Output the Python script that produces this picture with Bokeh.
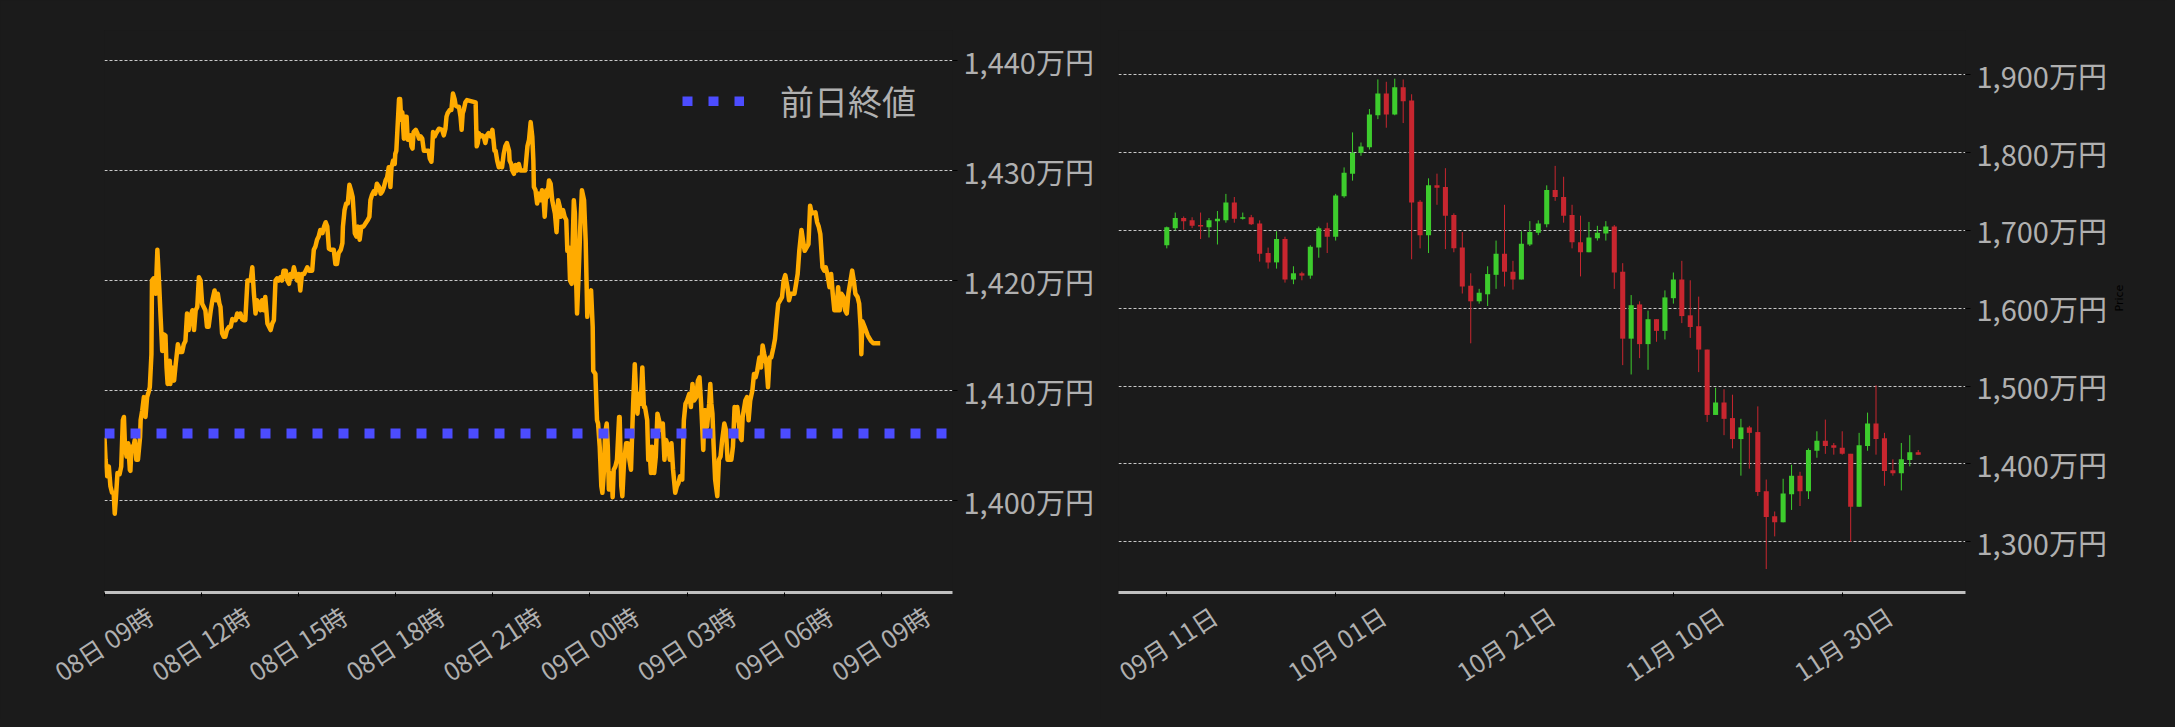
import math
from bokeh.plotting import figure
from bokeh.models import (Range1d, FixedTicker, ColumnDataSource, Legend, LegendItem, LinearAxis)
from bokeh.layouts import row
from bokeh.embed import file_html
from bokeh.resources import INLINE

# ---------------- data ----------------
# Intraday (minutes after 08日 09:00) and price (万円)
intraday = [(0,1405.7),(2,1403.7),(5,1402.2),(8,1403.1),(11,1401.3),(14,1400.7),(17,1400.7),(19,1398.8),(21,1400.1),(24,1402.5),(28,1402.4),(31,1403.1),(34,1407.3),(36,1407.6),(38,1404.9),(41,1404.0),(44,1405.2),(47,1402.8),(48,1402.7),(50,1404.9),(53,1404.6),(56,1405.5),(59,1403.7),(62,1403.7),(66,1405.8),(67,1407.3),(70,1408.2),(73,1409.4),(76,1407.6),(79,1409.4),(82,1409.9),(84,1410.3),(87,1413.3),(88,1420.0),(91,1420.2),(95,1418.8),(98,1422.8),(101,1420.0),(104,1416.7),(107,1413.6),(110,1415.1),(113,1415.0),(115,1412.1),(117,1410.6),(121,1412.7),(122,1410.6),(125,1412.1),(129,1410.9),(132,1412.4),(134,1413.3),(136,1414.2),(140,1413.5),(144,1413.5),(147,1414.2),(150,1414.5),(153,1417.0),(156,1415.5),(159,1416.7),(163,1417.3),(166,1415.5),(169,1417.3),(172,1417.6),(175,1420.3),(178,1420.0),(181,1417.9),(184,1417.6),(187,1417.3),(190,1415.8),(193,1415.8),(197,1417.3),(200,1418.2),(204,1419.1),(207,1418.2),(210,1418.8),(213,1417.9),(215,1417.6),(218,1415.2),(221,1414.9),(224,1414.9),(227,1415.5),(231,1415.8),(234,1415.8),(237,1416.5),(240,1416.4),(243,1416.4),(246,1417.0),(249,1416.7),(252,1417.0),(255,1416.5),(258,1416.4),(261,1416.4),(265,1420.0),(268,1420.0),(271,1420.0),(274,1421.2),(277,1418.8),(280,1417.0),(283,1418.2),(286,1417.9),(289,1417.3),(292,1418.2),(295,1417.3),(298,1418.5),(302,1416.1),(305,1415.8),(308,1415.5),(311,1416.1),(314,1416.4),(317,1420.0),(320,1420.2),(323,1420.0),(326,1420.3),(329,1420.0),(332,1420.9),(336,1420.9),(339,1420.0),(342,1419.7),(345,1420.6),(348,1420.3),(351,1421.2),(354,1420.6),(357,1420.0),(360,1420.6),(363,1419.1),(366,1420.6),(370,1420.6),(373,1420.9),(376,1421.2),(379,1420.9),(385,1420.9),(388,1422.8),(391,1423.1),(394,1423.7),(397,1424.0),(400,1424.6),(404,1424.3),(407,1424.9),(410,1425.3),(413,1424.9),(416,1422.9),(419,1422.8),(425,1422.8),(428,1421.5),(431,1421.5),(434,1422.5),(438,1422.8),(441,1423.4),(442,1424.9),(445,1426.4),(448,1427.0),(451,1427.0),(454,1428.7),(457,1428.2),(460,1427.6),(462,1426.1),(464,1424.3),(467,1424.0),(470,1424.9),(473,1423.7),(476,1424.9),(480,1424.9),(484,1425.2),(488,1425.5),(491,1425.8),(493,1427.3),(496,1427.8),(499,1428.1),(502,1427.9),(505,1428.8),(509,1428.5),(512,1427.9),(515,1428.1),(518,1428.5),(521,1429.1),(524,1429.4),(527,1430.3),(530,1428.5),(532,1430.3),(535,1430.9),(538,1430.6),(539,1431.5),(541,1431.8),(543,1433.7),(546,1436.5),(548,1436.5),(550,1434.6),(552,1435.3),(555,1432.9),(557,1434.9),(560,1434.9),(562,1432.8),(564,1433.1),(567,1433.2),(569,1432.2),(571,1432.0),(573,1433.5),(577,1433.7),(580,1433.4),(583,1432.9),(586,1433.1),(589,1432.9),(592,1431.8),(601,1431.8),(603,1431.1),(606,1430.8),(607,1431.5),(609,1433.5),(612,1433.1),(615,1433.4),(620,1433.8),(626,1433.7),(629,1433.2),(632,1433.8),(634,1434.9),(636,1435.2),(640,1435.5),(643,1435.5),(646,1437.0),(649,1436.5),(651,1435.9),(654,1435.8),(657,1435.8),(660,1434.9),(662,1433.7),(664,1435.2),(666,1435.5),(669,1436.2),(672,1436.4),(688,1436.2),(690,1432.2),(692,1432.5),(694,1433.4),(697,1433.1),(700,1433.2),(703,1433.1),(706,1432.5),(709,1433.2),(712,1433.4),(716,1433.1),(719,1433.7),(721,1432.8),(723,1431.8),(725,1431.8),(728,1430.9),(731,1430.3),(734,1430.6),(737,1430.3),(740,1431.5),(743,1432.2),(746,1432.5),(750,1431.8),(751,1430.9),(754,1430.6),(756,1430.0),(759,1429.7),(762,1430.5),(765,1430.0),(768,1430.6),(771,1430.0),(780,1430.0),(784,1432.2),(787,1432.8),(790,1434.4),(793,1433.1),(795,1430.9),(796,1428.5),(799,1428.2),(802,1427.0),(805,1427.9),(808,1427.3),(811,1428.2),(814,1427.3),(816,1425.8),(819,1428.2),(821,1427.6),(824,1429.1),(827,1428.8),(830,1427.3),(835,1426.1),(838,1424.4),(841,1427.3),(844,1426.7),(846,1425.8),(850,1426.4),(853,1425.8),(856,1425.5),(858,1422.7),(861,1423.0),(863,1420.0),(866,1419.7),(868,1423.6),(870,1427.3),(872,1426.1),(874,1420.6),(876,1417.0),(879,1420.6),(882,1424.9),(885,1428.2),(889,1427.3),(892,1423.6),(895,1416.7),(898,1418.8),(902,1419.1),(905,1415.8),(906,1411.8),(910,1411.5),(913,1407.3),(915,1407.0),(918,1404.9),(921,1401.3),(923,1400.7),(926,1402.8),(928,1406.1),(931,1407.0),(933,1404.9),(935,1401.0),(937,1402.5),(941,1401.6),(942,1400.3),(944,1402.8),(947,1403.1),(950,1403.7),(954,1407.6),(955,1407.6),(958,1401.3),(960,1400.4),(963,1403.4),(967,1405.2),(970,1405.2),(973,1403.7),(976,1402.8),(980,1408.8),(983,1412.4),(986,1409.1),(988,1407.9),(991,1409.7),(994,1408.8),(997,1412.1),(1000,1408.5),(1002,1408.5),(1006,1407.3),(1008,1403.7),(1010,1404.9),(1013,1402.5),(1015,1404.9),(1019,1402.5),(1022,1404.0),(1025,1407.9),(1028,1407.3),(1032,1406.4),(1035,1407.0),(1038,1403.7),(1041,1405.5),(1045,1404.9),(1048,1403.7),(1051,1405.2),(1054,1402.8),(1058,1400.7),(1061,1401.3),(1064,1401.6),(1067,1402.2),(1071,1401.9),(1074,1407.3),(1077,1408.8),(1080,1409.1),(1084,1409.7),(1087,1408.5),(1090,1410.6),(1093,1409.1),(1097,1409.4),(1100,1410.9),(1103,1411.2),(1106,1408.8),(1110,1404.6),(1112,1408.2),(1114,1408.2),(1117,1406.7),(1121,1408.8),(1123,1410.6),(1125,1408.8),(1127,1407.9),(1129,1405.2),(1132,1401.9),(1136,1400.4),(1139,1403.7),(1142,1404.0),(1145,1405.5),(1149,1407.0),(1152,1406.4),(1155,1403.7),(1162,1403.7),(1165,1404.9),(1168,1408.5),(1170,1407.3),(1173,1408.5),(1175,1407.6),(1178,1405.8),(1181,1405.5),(1183,1407.6),(1186,1408.5),(1188,1409.1),(1191,1409.4),(1194,1407.3),(1197,1409.1),(1201,1410.0),(1204,1411.5),(1207,1411.2),(1210,1411.8),(1214,1413.0),(1217,1412.1),(1220,1414.1),(1223,1413.3),(1227,1412.4),(1230,1410.3),(1233,1413.0),(1236,1413.0),(1240,1413.9),(1243,1414.7),(1246,1416.4),(1249,1417.9),(1256,1418.5),(1259,1420.0),(1262,1420.5),(1266,1419.4),(1269,1418.2),(1272,1418.8),(1279,1418.8),(1282,1419.7),(1285,1420.6),(1288,1422.7),(1292,1424.6),(1295,1423.6),(1298,1422.7),(1305,1423.3),(1308,1426.8),(1311,1426.1),(1318,1426.2),(1321,1425.3),(1324,1424.9),(1327,1424.2),(1331,1421.2),(1334,1420.9),(1337,1421.2),(1340,1420.6),(1344,1419.4),(1347,1420.6),(1350,1418.8),(1353,1417.3),(1357,1417.3),(1360,1419.4),(1363,1417.3),(1366,1418.8),(1370,1418.5),(1373,1417.3),(1376,1417.0),(1379,1418.8),(1383,1420.0),(1386,1420.9),(1389,1420.0),(1392,1418.8),(1396,1418.5),(1399,1417.9),(1402,1415.5),(1403,1413.3),(1405,1416.3),(1409,1415.8),(1415,1415.0),(1421,1414.5),(1425,1414.3),(1438,1414.3)]
intra_minutes = [t for t, _ in intraday]
intra_price = [v for _, v in intraday]
prev_close = 1406.1
prev_label = "前日終値"

left_ticks = [0, 180, 360, 540, 720, 900, 1080, 1260, 1440]
left_tick_labels = ["08日 09時", "08日 12時", "08日 15時", "08日 18時", "08日 21時",
                    "09日 00時", "09日 03時", "09日 06時", "09日 09時"]
left_yticks = [1400, 1410, 1420, 1430, 1440]
left_ytick_labels = ["1,400万円", "1,410万円", "1,420万円", "1,430万円", "1,440万円"]

# Daily candles, day index 0 = 09月11日 (万円)
c_open  = [1681,1703,1716,1713,1707,1704,1712,1713,1736,1715,1717,1709,1671,1659,1689,1637,1645,1642,1678,1703,
           1692,1744,1773,1800,1807,1848,1876,1849,1884,1867,1737,1694,1758,1756,1720,1678,1629,1609,1618,1643,
           1670,1647,1637,1682,1697,1708,1752,1743,1720,1685,1672,1690,1696,1705,1647,1561,1605,1554,1586,1571,
           1613,1637,1591,1577,1547,1463,1479,1459,1432,1447,1441,1365,1333,1325,1361,1385,1365,1417,1430,1424,
           1421,1413,1345,1423,1452,1433,1392,1388,1405,1415]
c_high  = [1705,1723,1718,1717,1723,1716,1725,1747,1743,1723,1720,1713,1678,1699,1692,1654,1647,1681,1705,1710,
           1747,1781,1826,1813,1856,1894,1891,1895,1894,1875,1739,1767,1773,1780,1722,1698,1645,1625,1654,1687,
           1733,1661,1699,1712,1713,1758,1783,1769,1733,1719,1711,1706,1712,1707,1658,1617,1609,1597,1586,1623,
           1646,1661,1636,1615,1547,1498,1496,1489,1458,1449,1474,1380,1339,1381,1399,1390,1420,1442,1457,1427,
           1442,1413,1440,1466,1501,1440,1406,1427,1437,1418]
c_low   = [1677,1700,1701,1703,1689,1691,1682,1710,1710,1714,1707,1660,1651,1651,1633,1631,1636,1638,1665,1671,
           1687,1742,1764,1796,1804,1843,1832,1848,1838,1663,1677,1671,1733,1676,1672,1619,1555,1606,1603,1625,
           1628,1624,1637,1680,1694,1704,1738,1710,1677,1641,1672,1687,1687,1625,1527,1515,1536,1521,1557,1560,
           1606,1581,1562,1518,1454,1463,1437,1420,1385,1394,1359,1265,1307,1325,1341,1346,1355,1408,1413,1412,
           1412,1300,1345,1417,1412,1372,1385,1366,1397,1412]
c_close = [1704,1716,1712,1706,1705,1713,1715,1736,1715,1717,1708,1670,1659,1689,1637,1645,1642,1679,1703,1692,
           1745,1774,1800,1808,1849,1876,1849,1884,1866,1736,1694,1758,1755,1719,1677,1628,1609,1620,1644,1670,
           1647,1637,1683,1698,1709,1752,1743,1719,1685,1672,1691,1697,1705,1646,1561,1604,1554,1586,1571,1614,
           1637,1590,1576,1547,1463,1479,1458,1432,1447,1440,1364,1332,1325,1362,1385,1365,1418,1430,1423,1421,
           1413,1345,1424,1452,1432,1391,1388,1406,1415,1412]
right_ticks = [0, 20, 40, 60, 80]
right_tick_labels = ["09月 11日", "10月 01日", "10月 21日", "11月 10日", "11月 30日"]
right_yticks = [1300, 1400, 1500, 1600, 1700, 1800, 1900]
right_ytick_labels = ["1,300万円", "1,400万円", "1,500万円", "1,600万円", "1,700万円", "1,800万円", "1,900万円"]
price_axis_label = "Price"

# ---------------- style ----------------
BG = "#1b1b1b"
FONT = "Noto Sans CJK JP"
TXT = "#b0b0b0"
GRID = "#c8c8c8"
UP = "#3dcc2d"
DOWN = "#c8262f"
LINE = "#ffab00"
BLUE = "#4c4cff"
LABEL_ANGLE = 0.58


def style(p, xticks, xlabels, yticks, ylabels, label_shift):
    p.background_fill_color = BG
    p.border_fill_color = BG
    p.outline_line_color = None
    p.xgrid.visible = False
    yt = FixedTicker(ticks=yticks)
    p.yaxis.ticker = yt
    p.ygrid.ticker = yt
    p.ygrid.grid_line_color = GRID
    p.ygrid.grid_line_dash = "3 2"
    p.ygrid.grid_line_width = 1
    p.yaxis.major_label_overrides = {t: l for t, l in zip(yticks, ylabels)}
    p.yaxis.axis_line_color = None
    p.yaxis.major_tick_line_color = "black"
    p.yaxis.major_tick_out = 5
    p.yaxis.major_tick_in = 0
    p.yaxis.minor_tick_line_color = None
    p.yaxis.major_label_standoff = 6
    p.yaxis.major_label_text_font = FONT
    p.yaxis.major_label_text_font_size = "29px"
    p.yaxis.major_label_text_color = TXT
    # tick marks (labels hidden here)
    xt = FixedTicker(ticks=xticks)
    p.xaxis.ticker = xt
    p.xaxis.major_label_overrides = {t: "" for t in xticks}
    p.xaxis.major_label_text_font_size = "0px"
    p.xaxis.major_label_standoff = 0
    p.xaxis.axis_line_color = "#c0c0c0"
    p.xaxis.axis_line_width = 3
    p.xaxis.major_tick_line_color = "black"
    p.xaxis.major_tick_out = 4
    p.xaxis.major_tick_in = 0
    p.xaxis.minor_tick_line_color = None
    # rotated tick labels, centred under each tick (right-aligned text, so anchor shifted)
    shifted = [t + label_shift for t in xticks]
    lab_axis = LinearAxis(ticker=FixedTicker(ticks=shifted),
                          major_label_overrides={s: l for s, l in zip(shifted, xlabels)},
                          axis_line_color=None, major_tick_line_color=None,
                          major_tick_out=0, major_tick_in=0,
                          minor_tick_line_color=None, minor_tick_out=0, minor_tick_in=0,
                          major_label_orientation=LABEL_ANGLE, major_label_standoff=16,
                          major_label_text_font=FONT, major_label_text_font_size="25px",
                          major_label_text_color=TXT)
    p.add_layout(lab_axis, "below")


# ---------------- left: intraday ----------------
x0, x1 = 0, 1572
p1 = figure(frame_width=848, frame_height=562, x_range=Range1d(x0, x1),
            y_range=Range1d(1391.64, 1442.73), output_backend="svg", toolbar_location=None,
            y_axis_location="right", min_border_left=104, min_border_right=148,
            min_border_top=30, min_border_bottom=127)
style(p1, left_ticks, left_tick_labels, left_yticks, left_ytick_labels, 84)
p1.line(intra_minutes, intra_price, line_color=LINE, line_width=4.5, line_join="round")
prev_r = p1.line([x0, x1], [prev_close, prev_close], line_color=BLUE, line_width=10,
                 line_dash="10 16")
legend = Legend(items=[LegendItem(label=prev_label, renderers=[prev_r])], location=(578, 467),
                glyph_width=62, glyph_height=10, label_standoff=36, padding=0, spacing=0,
                margin=0, border_line_color=None, background_fill_alpha=0,
                label_text_font=FONT, label_text_font_size="34px", label_text_color=TXT)
p1.add_layout(legend)

# ---------------- right: daily candles ----------------
days = list(range(len(c_open)))
colors = [UP if c >= o else DOWN for o, c in zip(c_open, c_close)]
csrc = ColumnDataSource(dict(x=days, o=c_open, h=c_high, l=c_low, c=c_close,
                             top=[max(o, c) for o, c in zip(c_open, c_close)],
                             bot=[min(o, c) for o, c in zip(c_open, c_close)],
                             color=colors))
p2 = figure(frame_width=847, frame_height=562, x_range=Range1d(-5.72, 94.6),
            y_range=Range1d(1234.9, 1956.9), output_backend="svg", toolbar_location=None,
            y_axis_location="right", min_border_left=18, min_border_right=202,
            min_border_top=30, min_border_bottom=127)
style(p2, right_ticks, right_tick_labels, right_yticks, right_ytick_labels, 5.6)
p2.segment(x0="x", y0="l", x1="x", y1="h", source=csrc, line_color="color", line_width=1)
p2.vbar(x="x", width=0.6, top="top", bottom="bot", source=csrc, fill_color="color",
        line_color=None)

yax = p2.yaxis[0]
yax.axis_label = price_axis_label
yax.axis_label_text_color = "black"
yax.axis_label_text_font = "DejaVu Sans"
yax.axis_label_text_font_size = "11px"
yax.axis_label_text_font_style = "normal"
yax.axis_label_standoff = 10
if "axis_label_orientation" in yax.properties():
    yax.axis_label_orientation = math.pi / 2

layout = row(p1, p2, spacing=0)
html = file_html(layout, INLINE)
html = html.replace("<head>", "<head><style>html,body{background:#1b1b1b;}</style>", 1)
open("out.html", "w").write(html)
